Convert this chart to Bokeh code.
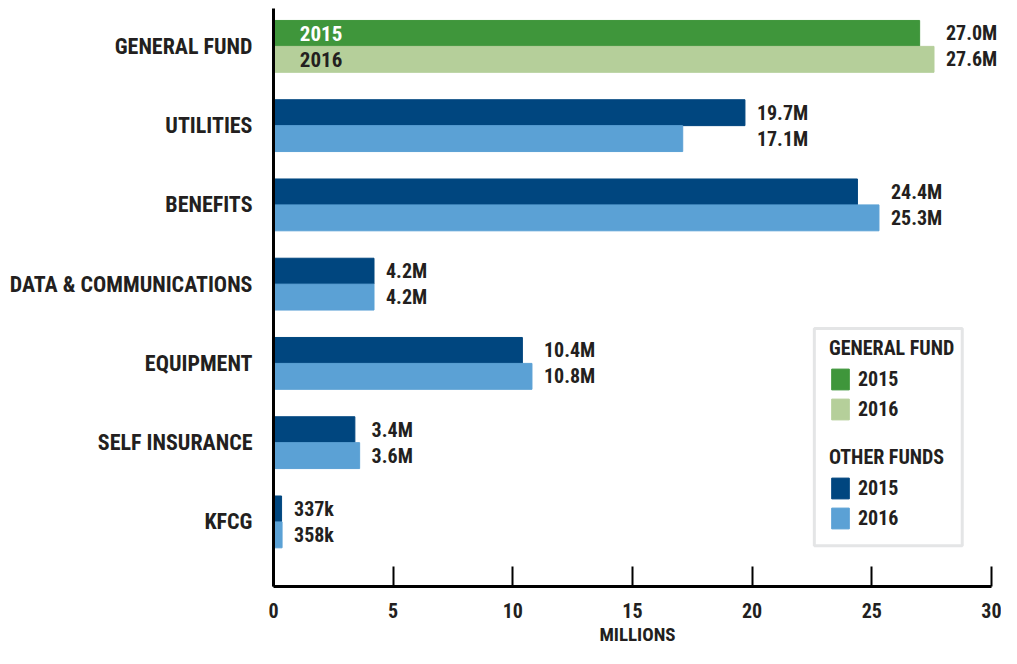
from bokeh.plotting import figure
from bokeh.models import (ColumnDataSource, Range1d, FixedTicker, Legend, LegendItem,
                          BoxAnnotation, LabelSet)
from bokeh.embed import file_html
from bokeh.resources import INLINE
from bokeh.core.properties import value

# ---------------- data ----------------
categories = ["GENERAL FUND", "UTILITIES", "BENEFITS", "DATA & COMMUNICATIONS",
              "EQUIPMENT", "SELF INSURANCE", "KFCG"]
values_2015 = [27.0, 19.7, 24.4, 4.2, 10.4, 3.4, 0.337]
values_2016 = [27.6, 17.1, 25.3, 4.2, 10.8, 3.6, 0.358]
labels_2015 = ["27.0M", "19.7M", "24.4M", "4.2M", "10.4M", "3.4M", "337k"]
labels_2016 = ["27.6M", "17.1M", "25.3M", "4.2M", "10.8M", "3.6M", "358k"]
x_ticks = [0, 5, 10, 15, 20, 25, 30]
legend_groups = ["GENERAL FUND", "OTHER FUNDS"]
legend_years = ["2015", "2016"]

# ---------------- style ----------------
FONT = "'Roboto Condensed', 'DejaVu Sans Condensed', Roboto"
TXT = "#231f20"
GF15, GF16 = "#3f963b", "#b5cf9a"
OF15, OF16 = "#00467f", "#5ba1d5"
BAR_H = 0.327
HALF = BAR_H / 2

idx = list(range(len(categories)))


def src(indices):
    return ColumnDataSource(dict(
        cat=[categories[i] for i in indices],
        y15=[i - HALF for i in indices],
        y16=[i + HALF for i in indices],
        v15=[values_2015[i] for i in indices],
        v16=[values_2016[i] for i in indices],
        l15=[labels_2015[i] for i in indices],
        l16=[labels_2016[i] for i in indices],
        lx=[max(values_2015[i], values_2016[i]) + 0.5 for i in indices],
    ))


gf = src([0])
of = src(idx[1:])

p = figure(width=1001, height=648, output_backend="svg", toolbar_location=None,
           x_range=Range1d(0, 30.42), y_range=Range1d(6.815, -0.478),
           min_border_left=273, min_border_right=0, min_border_top=8, min_border_bottom=60)
p.outline_line_color = None
p.xgrid.visible = False
p.ygrid.visible = False
p.background_fill_color = "white"

r_gf15 = p.hbar(y="y15", right="v15", left=0, height=BAR_H, source=gf, color=GF15)
r_gf16 = p.hbar(y="y16", right="v16", left=0, height=BAR_H, source=gf, color=GF16)
r_of15 = p.hbar(y="y15", right="v15", left=0, height=BAR_H, source=of, color=OF15)
r_of16 = p.hbar(y="y16", right="v16", left=0, height=BAR_H, source=of, color=OF16)

for s in (gf, of):
    for yc, lc in (("y15", "l15"), ("y16", "l16")):
        p.add_layout(LabelSet(x="lx", y=yc, text=lc, source=s, text_font=value(FONT),
                              text_font_style="bold", text_font_size="20px", text_color=TXT,
                              text_baseline="middle", text_align="left"))

# inner year labels on the general fund bars
p.text(x=[1.1], y=gf.data["y15"], text=[legend_years[0]], text_font=value(FONT),
       text_font_style="bold", text_font_size="21px", text_color="white", text_baseline="middle")
p.text(x=[1.1], y=gf.data["y16"], text=[legend_years[1]], text_font=value(FONT),
       text_font_style="bold", text_font_size="21px", text_color=TXT, text_baseline="middle")

# axes
xa = p.xaxis[0]
xa.ticker = FixedTicker(ticks=x_ticks)
xa.bounds = (x_ticks[0], x_ticks[-1])
xa.axis_label = "MILLIONS"
xa.axis_line_width = 3
xa.axis_line_color = "black"
xa.major_tick_in = 20
xa.major_tick_out = 0
xa.major_tick_line_width = 2
xa.major_tick_line_color = "black"
xa.minor_tick_line_color = None
xa.major_label_text_font = FONT
xa.major_label_text_font_style = "bold"
xa.major_label_text_font_size = "20px"
xa.major_label_text_color = TXT
xa.major_label_standoff = 16
xa.axis_label_text_font = FONT
xa.axis_label_text_font_style = "bold"
xa.axis_label_text_font_size = "19px"
xa.axis_label_text_color = TXT
xa.axis_label_standoff = 2

ya = p.yaxis[0]
ya.ticker = FixedTicker(ticks=idx)
ya.major_label_overrides = {i: c for i, c in zip(idx, categories)}
ya.axis_line_width = 3
ya.axis_line_color = "black"
ya.major_tick_line_color = None
ya.minor_tick_line_color = None
ya.major_label_text_font = FONT
ya.major_label_text_font_style = "bold"
ya.major_label_text_font_size = "22px"
ya.major_label_text_color = TXT
ya.major_label_standoff = 15

# legend box
p.add_layout(BoxAnnotation(left=22.6, right=28.78, top=3.56, bottom=6.30,
                           fill_alpha=0, line_color="#a7a9ac", line_width=3))


def make_legend(title, r15, r16, loc):
    return Legend(items=[LegendItem(label=legend_years[0], renderers=[r15]),
                         LegendItem(label=legend_years[1], renderers=[r16])],
                  title=title, location=loc, orientation="vertical",
                  glyph_width=22, glyph_height=26, label_height=26, spacing=4,
                  padding=0, margin=0, label_standoff=7, title_standoff=6,
                  border_line_alpha=0, background_fill_alpha=0,
                  label_text_font=FONT, label_text_font_style="bold",
                  label_text_font_size="20px", label_text_color=TXT,
                  title_text_font=FONT, title_text_font_style="bold",
                  title_text_font_size="20px", title_text_color=TXT)


p.add_layout(make_legend(legend_groups[0], r_gf15, r_gf16, (556, 164)))
p.add_layout(make_legend(legend_groups[1], r_of15, r_of16, (556, 55)))

open("out.html", "w").write(file_html(p, INLINE))
